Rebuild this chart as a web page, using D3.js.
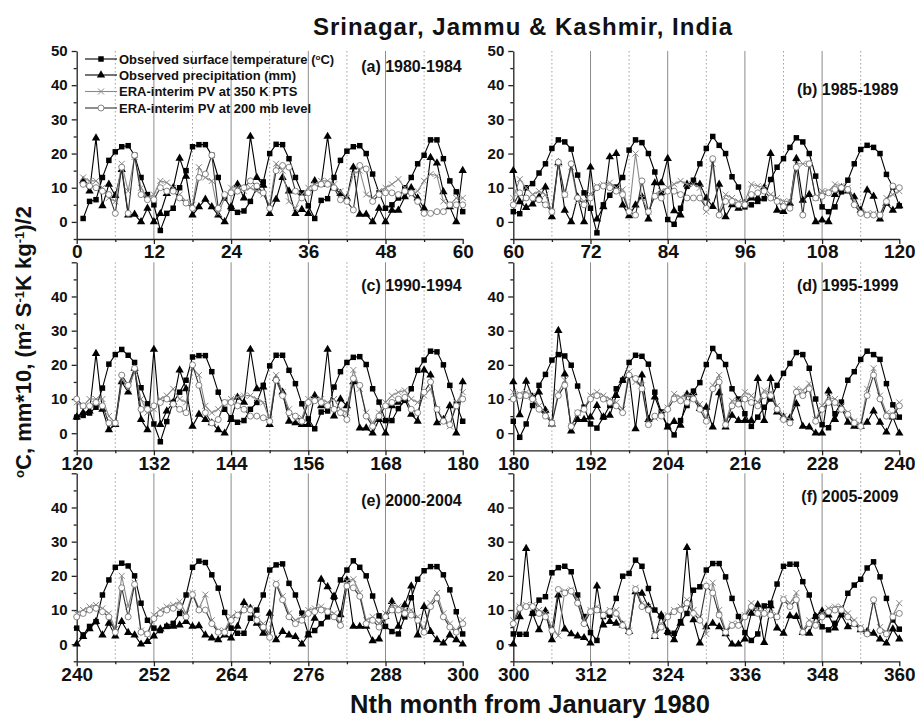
<!DOCTYPE html>
<html>
<head>
<meta charset="utf-8">
<script src="https://cdn.jsdelivr.net/npm/d3@7"></script>
<style>
    body { margin: 0; background: #fff; }
    text { font-family: "Liberation Sans", Arial, sans-serif; font-weight: bold; fill: #111; }
    .domain, .tick line { stroke-width: 1.3; }
</style>
</head>
<body>
<div id="chart"></div>
<script>

// monthly values, month 1 = January 1980, one row per year
const temperature = [
    1, 6, 6.5, 13, 18, 20.5, 22, 22.3, 19.5, 13, 8, 5,
    -2.5, 2.5, 4, 10, 15, 22, 22.6, 22.6, 19.5, 13, 7, 4,
    2.8, 3.2, 6, 10, 11.7, 20, 22.7, 22.6, 18.5, 13, 8.5, 4.7,
    1, 6.3, 6.8, 13, 18, 20.7, 22, 22.3, 20, 14, 8.5, 4,
    5, 7, 10, 13, 17, 19.5, 24, 24, 18.5, 12, 8.8, 3,
    2.4, 10, 11.2, 14.3, 17, 21.5, 24, 23.4, 21.3, 13.7, 8.5, 4,
    -3.2, 5, 7.8, 10.2, 13, 21, 24, 23.2, 20, 14.6, 8.3, 0.7,
    -0.7, 4, 10.4, 12.2, 17, 21.5, 25, 22.4, 20, 13.2, 10.2, 4.4,
    5, 6, 6.8, 12.4, 16, 18.5, 21.8, 24.6, 23.4, 20, 13.4, 4.4,
    3, 4.4, 8.8, 12.2, 17, 21.2, 22.4, 21.8, 20, 13.9, 10.2, 4.7,
    5.2, 5.9, 7.6, 13.2, 20.2, 23, 24.5, 22.8, 20.7, 13.3, 8.6, 2.7,
    -2.5, 3.4, 9, 12, 15.5, 22.3, 22.7, 22.7, 18, 12, 7, 4.5,
    3.2, 3.7, 7, 9, 14, 19.7, 22.8, 22.8, 18.4, 14.5, 8.6, 4.2,
    1.3, 6.2, 6.5, 13.5, 18, 20.7, 22.2, 22.4, 20.1, 13, 9.1, 3.7,
    3.7, 7.2, 9.6, 13, 18.4, 21.4, 24, 23.8, 20, 14, 8.5, 3.5,
    -1.2, 2.7, 8.1, 14, 17.2, 21.4, 23, 22.6, 19.9, 13.8, 7.6, 2.7,
    1.5, 4.7, 8.1, 13, 15.5, 20.7, 22.8, 22.5, 20.2, 12, 6.2, 2,
    -0.5, 3.7, 8.1, 12.3, 14.8, 20.1, 24.8, 22.4, 20.1, 13, 10, 5.7,
    2, 4.7, 7.6, 10, 14, 17.5, 20.4, 23.6, 23, 19, 10, 2.5,
    1.6, 5.7, 9.1, 15.5, 18, 21.6, 24, 23, 21.6, 14.5, 8.3, 4.7,
    2.7, 5.2, 6.6, 14.4, 18.8, 22.5, 23.7, 22.9, 20, 12, 7, 4.7,
    4, 5.2, 6.1, 9, 14.4, 22.5, 24.3, 23.9, 20.3, 16.4, 9.3, 4.7,
    3.2, 3.2, 7.6, 10, 14.4, 21.7, 23.2, 23.5, 17.8, 14.4, 9.1, 3,
    4, 6, 8, 13.7, 18.8, 21.7, 24.4, 22.5, 20, 14.1, 8.3, 5.2,
    3.7, 3, 8, 13.6, 19, 21.5, 22.7, 22.7, 20.3, 15.9, 9.5, 3,
    2.9, 2.9, 9, 12.9, 13.9, 20.9, 22.4, 22.8, 21.2, 14.4, 8.1, 3.4,
    1.1, 8.1, 8.5, 13.4, 19.9, 20.7, 24.6, 22.8, 16.3, 10, 8.1, 3.4,
    3.2, 6.6, 9, 15.8, 16.8, 21.7, 23.6, 23.6, 19.7, 13.4, 8.1, 3.4,
    1.1, 3, 11.2, 12, 17.6, 22.8, 23.4, 23.4, 18.3, 14.4, 8.1, 5.1,
    4.2, 6.1, 9.5, 14.9, 17.3, 19, 22.3, 24.1, 19.7, 13.4, 7.1, 4.4
];

const precipitation = [
    12, 9, 24.5, 4.7, 11, 7.7, 15.3, 2, 2.2, 0, 4, 0,
    2.4, 8.3, 10, 18.6, 13.3, 2, 4.4, 6.6, 4.4, 2, 0, 4.4,
    11, 7, 25, 13, 10.7, 2.4, 6.6, 13, 9, 2.4, 3.6, 2.4,
    12, 11, 25, 10, 8.3, 7, 16, 2.2, 2.2, 0, 4, 0,
    3.4, 3.4, 7.3, 10, 7, 4, 18.8, 17.2, 8.8, 4.4, 0, 15,
    5.9, 4.2, 5.2, 7.3, 10.2, 1.5, 17.3, 3.4, 0, 7.3, 0, 16,
    0.8, 4.4, 19, 20, 4.9, 1.8, 4.9, 7.3, 0.8, 11.4, 11.4, 18.5,
    3.2, 2, 11, 11.5, 11, 7, 4.5, 11, 1.5, 5, 4, 5.4,
    7, 7, 10, 20, 3.4, 3, 5.4, 18.5, 6.3, 8, 0, 0.5,
    0, 8, 10, 9, 7.3, 3.4, 9.3, 7.5, 0.8, 5.4, 3.4, 4.7,
    6, 6.5, 23.3, 7, 1, 2.5, 15, 12, 19, 4, 1, 24.5,
    2.5, 6.5, 9, 18.5, 13, 2, 5.5, 4, 3, 1, 0, 4,
    10.5, 9, 24.5, 13, 13.5, 2.5, 16, 12, 3.5, 3, 2.5, 2.5,
    11, 8, 24.5, 5, 10, 8, 15, 1.5, 1.5, 0, 4, 0,
    8, 9, 10, 5.5, 3.5, 18.5, 17, 3, 4, 8, 0, 15,
    5.4, 15.2, 10.6, 12, 6.7, 2.7, 30, 17.3, 0.6, 4, 4, 4.7,
    8.1, 4.7, 5.2, 11, 15.5, 17, 1.3, 17, 4, 10.6, 5.7, 1.8,
    3.4, 2.3, 11.4, 11.8, 7.2, 7.6, 1.8, 11.8, 1.8, 5.2, 3.7, 3.7,
    3.7, 16, 3.7, 16, 6.2, 4.7, 4.4, 8.6, 2, 1.8, 0, 0,
    12.3, 4, 7.6, 3.2, 2, 2, 3.2, 6.5, 3.2, 0.3, 4.7, 0,
    2.2, 4.5, 6.6, 2.7, 6.1, 2.4, 6.6, 3.4, 2.7, 0, 0.8, 2.4,
    4.4, 5.2, 5.2, 5.6, 6.6, 5.2, 5.4, 2.7, 1.8, 1.3, 2.7, 1.8,
    5.2, 12.2, 10.5, 6.1, 3.2, 9, 1.3, 3.7, 2.7, 2.2, 0, 2.7,
    7.6, 19, 16.8, 14, 8.6, 18.8, 5.2, 5.2, 5.2, 1, 1.5, 8.1,
    12.5, 5.2, 11.5, 17, 2.7, 11, 3.7, 1.3, 0.3, 2.7, 1.3, 0,
    8, 28, 9, 4.2, 9.7, 1.3, 14.4, 4.4, 3, 2.4, 1.9, 0.3,
    17, 5.6, 6.6, 6.1, 5.6, 3.7, 15.3, 14.9, 11, 2.2, 8.5, 3.7,
    1.3, 6.1, 28.3, 7.1, 0.3, 5.1, 6.1, 5.1, 3, 0, 0, 1.5,
    9, 11.5, 0.5, 11.2, 4.7, 3.2, 8.3, 8.1, 3.4, 3.2, 8.1, 9.7,
    8.5, 4.7, 8.5, 5.1, 5.9, 4.2, 3.7, 3.2, 1.5, 0.3, 4.4, 1.5
];

const pv350 = [
    13, 12, 12, 10, 7, 6, 17, 9, 19, 10, 7, 8,
    12, 11.5, 10, 8, 6, 5, 16, 13, 12, 2.5, 7, 10,
    10, 9, 10, 9, 8, 5, 17, 15, 6, 4, 8, 10,
    11, 12, 12, 11, 9, 7, 14, 15, 8, 7, 9, 10,
    11, 12.5, 10, 8, 9, 12, 14, 13.5, 6, 5, 7, 7,
    12.5, 10, 8, 9, 8, 3, 17, 8, 16, 6, 6, 8,
    10.5, 11, 11.5, 10, 9.5, 3, 20, 7, 3, 8, 9, 10,
    11, 12, 11, 11, 10, 3, 17, 3, 8, 7, 6, 6,
    11, 10.5, 10, 8, 7, 6, 6, 17, 17, 17, 7, 9,
    9, 11, 10.5, 10, 6, 3, 2.5, 2.5, 2, 7, 8, 9,
    8, 10, 10, 10, 5, 3, 16, 13, 18, 10, 6, 7,
    10, 11, 13, 10, 9, 19, 17, 8, 6, 7, 9, 10,
    10.5, 11, 11, 10, 9, 4, 17, 12, 7, 4, 4.5, 10,
    10, 10, 9, 10, 7, 6, 18.5, 13, 6, 3, 6, 9,
    11, 12, 12.5, 10, 9, 11, 13, 7, 4, 2, 9, 12,
    11.5, 12, 11, 8, 6, 3, 12, 15.5, 2, 6, 7, 11,
    12, 11, 10, 9, 7, 18, 15, 14, 3, 4.5, 6, 7.5,
    11.5, 10.5, 11, 11, 8.5, 4, 14, 17, 3, 9.5, 9.5, 12,
    11, 9, 12.5, 12, 8, 5, 4, 13, 12.5, 14.5, 4, 8,
    10.5, 10, 8, 6, 3.5, 2.5, 13, 19, 11, 6, 5.5, 9,
    10, 11, 11.5, 10.5, 9, 4.5, 20, 11, 18, 4, 3, 8.5,
    10, 11, 11.5, 12.5, 9, 15, 10.5, 14.5, 7, 4, 4, 8,
    9, 10.5, 10.5, 7.5, 6, 3, 18, 14, 9, 7, 8, 10,
    10.5, 11, 10, 9, 6, 18.5, 19, 15, 7, 8, 6, 9,
    11.5, 11, 10, 10, 8, 4, 12, 15, 9, 6, 4, 7,
    11, 11.5, 11.5, 10, 9, 5, 2.5, 15.5, 16, 13, 7, 10,
    11, 9, 10, 10, 6, 4, 16.5, 12, 11, 3, 6, 8.5,
    10, 11, 13, 10, 8, 3, 18, 10, 4, 6, 6, 8.5,
    12, 10, 9.5, 9, 8.5, 13.5, 12, 15, 4, 7, 6, 9,
    10.5, 11, 11, 9, 7, 5, 3.5, 12.5, 5, 3.5, 8.5, 12
];

const pv200 = [
    11, 10.5, 10, 9, 8, 2.5, 16, 2.5, 19.5, 8, 6.5, 6.5,
    10, 9, 9, 7, 5.5, 4, 13, 14, 19.5, 4, 8, 8.5,
    9, 10, 12, 10.5, 8.5, 4, 15, 16.5, 16, 9, 7, 8.5,
    10, 11, 11, 10, 6.5, 6, 3.5, 16.5, 15.5, 6, 8, 8.5,
    8.5, 8, 9, 8.5, 6, 2.5, 2.5, 3, 3, 5, 5, 5,
    8.5, 7, 7, 6.5, 5, 3, 17.5, 8, 17, 7, 5, 7,
    10, 10.5, 10, 9, 8, 3, 2, 12, 3, 7.5, 7, 9,
    9, 8, 7, 7, 7, 4, 18.5, 2, 6, 6, 5, 5,
    8, 8.5, 9, 7, 6, 4.5, 4, 16, 2, 17, 7, 7.5,
    8.5, 9.5, 10, 9.5, 5, 2.5, 2, 2, 2, 6, 10.5, 10,
    8, 8, 9, 8, 3, 3, 17, 14, 19, 7, 7, 8,
    9, 10, 8.5, 7, 6, 20, 14, 6, 3, 4, 9, 9,
    8, 7, 5, 5, 4.5, 3.5, 15.5, 11, 6, 5, 3.5, 9,
    9.5, 9, 8, 7, 6, 4, 16, 14, 5, 2, 5, 8,
    9, 10, 10.5, 7, 6, 12, 15, 7, 3.5, 2.5, 8, 10,
    11, 11, 10, 7, 5, 3, 11, 14, 2, 6, 7, 10,
    11, 10, 9, 8, 6, 17, 16, 13, 2.5, 5, 5, 7,
    10, 9.5, 9, 10, 7, 3.5, 13, 15, 2.5, 8, 8.5, 10,
    9, 8, 11, 11, 7, 4, 3, 12, 11, 13, 3.5, 7,
    9, 9, 7, 5.5, 3, 2, 11, 17, 10, 5, 5, 8,
    9, 10, 10.5, 9.5, 8, 3.5, 16.5, 8, 17.5, 3.5, 3, 7.5,
    9, 10, 10.5, 11, 8, 14.5, 10, 10, 6, 3.5, 3.5, 7,
    8.5, 10, 10, 7, 5, 2, 17.5, 13, 8, 6, 7, 9,
    9.5, 10, 9.5, 8, 5.5, 17, 16.5, 14, 6, 7, 5, 8,
    10, 10, 9, 8.5, 7, 3.5, 11, 13.5, 8, 5, 3.5, 6,
    10.5, 11, 11, 9, 8, 4, 16, 15, 15.5, 12, 6, 9.5,
    10, 8.5, 9.5, 9, 5.5, 3.5, 16, 11, 10, 2.5, 5, 8,
    9.5, 10, 12, 9, 7, 17, 15, 8.5, 3.5, 5.5, 5.5, 8,
    11, 9, 9, 8.5, 8, 13, 11, 13, 3.5, 6, 5.5, 8,
    9.5, 10, 10, 8, 6, 4.5, 3, 13, 4, 3, 8, 9
];

const panelLabels = ["(a) 1980-1984", "(b) 1985-1989", "(c) 1990-1994",
    "(d) 1995-1999", "(e) 2000-2004", "(f) 2005-2009"];
const seriesNames = ["Observed surface temperature", "Observed precipitation (mm)",
    "ERA-interim PV at 350 K PTS", "ERA-interim PV at 200 mb level"];
const yMajorTicks = [0, 10, 20, 30, 40, 50];
const yMinorTicks = [-5, 5, 15, 25, 35, 45];
const MONTHS_PER_PANEL = 60;

var width = 915, height = 719;
var colLeft = [76.7, 513.3], plotW = 386;
var rowTop = [51, 262.3, 473.3], plotH = 188;
var labelDrop = [21, 44, 29, 29, 33, 29];

var svg = d3.select("#chart").append("svg")
    .attr("width", width)
    .attr("height", height);

var series = [
    { values: temperature, stroke: "#000", marker: "square" },
    { values: precipitation, stroke: "#000", marker: "triangle" },
    { values: pv350, stroke: "#8a8a8a", marker: "cross" },
    { values: pv200, stroke: "#333", marker: "circle" }
];

function addMarker(sel, type, stroke) {
    if (type === "circle") {
        sel.append("circle").attr("r", 3)
            .attr("fill", "#fff").attr("stroke", "#777").attr("stroke-width", 0.9);
    } else if (type === "cross") {
        sel.append("path").attr("d", "M-3,-3L3,3M-3,3L3,-3")
            .attr("stroke", stroke).attr("stroke-width", 1).attr("fill", "none");
    } else {
        var sym = type === "square" ? d3.symbolSquare : d3.symbolTriangle;
        var size = type === "square" ? 30 : 30;
        sel.append("path").attr("d", d3.symbol(sym, size)()).attr("fill", "#000");
    }
}

panelLabels.forEach((label, p) => {
    var start = p * MONTHS_PER_PANEL, end = start + MONTHS_PER_PANEL;
    var left = colLeft[p % 2], top = rowTop[Math.floor(p / 2)];

    var x = d3.scaleLinear().domain([start, end]).range([left, left + plotW]);
    var y = d3.scaleLinear().domain([-5, 50]).range([top + plotH, top]);

    var g = svg.append("g");

    // solid line every January, dotted line mid-year
    d3.range(start + 6, end, 6).forEach(m => {
        g.append("line")
            .attr("x1", x(m)).attr("x2", x(m))
            .attr("y1", y(50)).attr("y2", y(-5))
            .attr("stroke", m % 12 === 0 ? "#8c8c8c" : "#a0a0a0")
            .attr("stroke-width", 1)
            .attr("stroke-dasharray", m % 12 === 0 ? null : "1.5,2.5");
    });

    // axes
    g.append("g")
        .attr("transform", `translate(${left},0)`)
        .attr("color", "#222")
        .call(d3.axisLeft(y).tickValues(yMajorTicks).tickSize(5).tickSizeOuter(0).tickPadding(4)
            .tickFormat(v => (p > 1 && v === 50) ? "" : v))
        .attr("font-size", 15);
    g.append("g")
        .attr("transform", `translate(${left},0)`)
        .attr("color", "#222")
        .call(d3.axisLeft(y).tickValues(yMinorTicks).tickSize(3).tickFormat(""))
        .call(a => a.select(".domain").remove());

    var axisY = y(-5);
    g.append("g")
        .attr("transform", `translate(0,${axisY})`)
        .attr("color", "#222")
        .call(d3.axisBottom(x).tickValues(d3.range(start, end + 1, 12)).tickSize(5)
            .tickSizeOuter(0).tickPadding(1))
        .attr("font-size", 19);
    g.append("g")
        .attr("transform", `translate(0,${axisY})`)
        .attr("color", "#222")
        .call(d3.axisBottom(x).tickValues(d3.range(start + 6, end, 12)).tickSize(3).tickFormat(""))
        .call(a => a.select(".domain").remove());

    // data
    var months = d3.range(Math.max(start, 1), end + 1);
    series.forEach(s => {
        var pts = months.map(m => [m, s.values[m - 1]]);
        g.append("path")
            .datum(pts)
            .attr("fill", "none")
            .attr("stroke", s.stroke)
            .attr("stroke-width", 1.1)
            .attr("d", d3.line().x(d => x(d[0])).y(d => y(d[1])));
        g.append("g").selectAll("g")
            .data(pts)
            .enter().append("g")
            .attr("transform", d => `translate(${x(d[0])},${y(d[1])})`)
            .each(function () { addMarker(d3.select(this), s.marker, s.stroke); });
    });

    g.append("text")
        .attr("x", left + plotW - 1)
        .attr("y", top + labelDrop[p])
        .attr("text-anchor", "end")
        .attr("font-size", 16)
        .text(label);
});

// legend inside panel (a)
var legend = svg.append("g");
var legendRows = [59, 75, 91.5, 108];
series.forEach((s, i) => {
    var row = legend.append("g").attr("transform", `translate(0,${legendRows[i]})`);
    row.append("line").attr("x1", 85).attr("x2", 117)
        .attr("stroke", s.stroke).attr("stroke-width", 1.1);
    var mk = row.append("g").attr("transform", "translate(101,0)");
    addMarker(mk, s.marker, s.stroke);
    var t = row.append("text").attr("x", 119).attr("dy", "0.36em").attr("font-size", 13)
        .text(seriesNames[i]);
    if (i === 0) {
        t.append("tspan").text(" (");
        t.append("tspan").attr("baseline-shift", "super").attr("font-size", 8).text("o");
        t.append("tspan").text("C)");
    }
});

// titles
svg.append("text")
    .attr("x", 523).attr("y", 35)
    .attr("text-anchor", "middle")
    .attr("font-size", 24)
    .attr("letter-spacing", 1)
    .text("Srinagar, Jammu & Kashmir, India");

svg.append("text")
    .attr("x", 530).attr("y", 713)
    .attr("text-anchor", "middle")
    .attr("font-size", 25.5)
    .text("Nth month from January 1980");

var yTitle = svg.append("text")
    .attr("transform", "translate(31,342) rotate(-90)")
    .attr("text-anchor", "middle")
    .attr("font-size", 22);
[["o", true], ["C, mm*10, (m", false], ["2", true], [" S", false], ["-1", true],
 ["K kg", false], ["-1", true], [")/2", false]].forEach(part => {
    var ts = yTitle.append("tspan").text(part[0]);
    if (part[1]) ts.attr("baseline-shift", "super").attr("font-size", 13);
});

</script>
</body>
</html>
